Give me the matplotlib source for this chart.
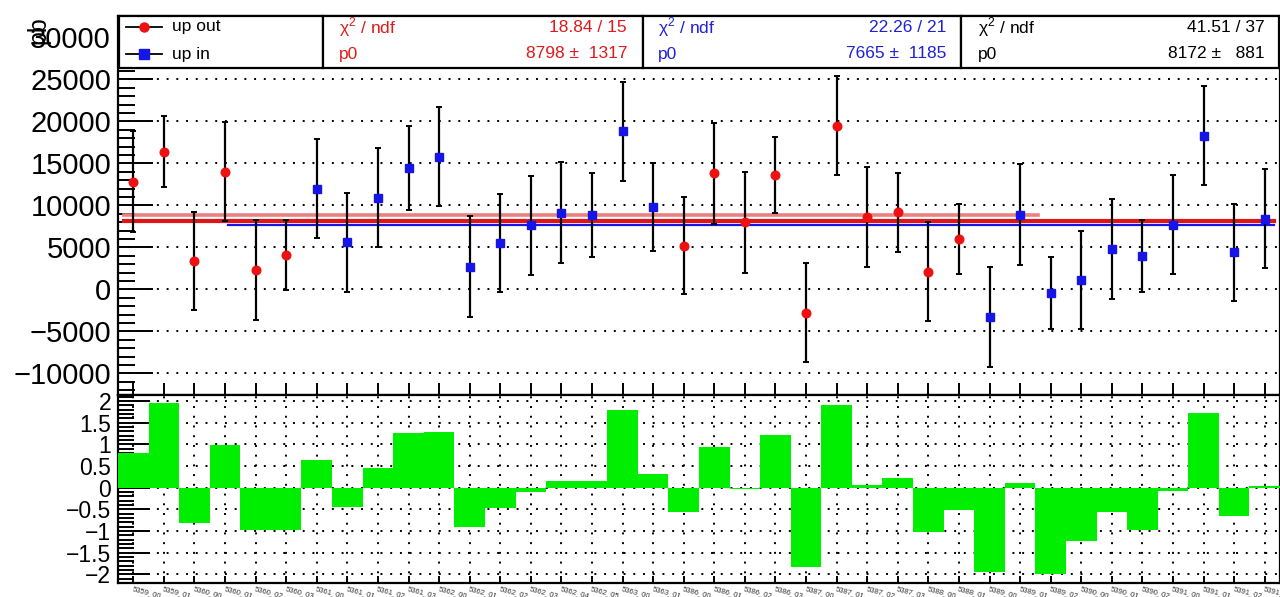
import numpy as np
import matplotlib.pyplot as plt
from matplotlib.patches import Rectangle
from matplotlib.lines import Line2D
from matplotlib.ticker import MultipleLocator

plt.rcParams['font.family'] = ['Liberation Sans', 'DejaVu Sans']
plt.rcParams['mathtext.fontset'] = 'custom'
plt.rcParams['mathtext.rm'] = 'Liberation Sans'

# run labels, one bin per run segment
runs = ["5359_00", "5359_01", "5360_00", "5360_01", "5360_02", "5360_03",
        "5361_00", "5361_01", "5361_02", "5361_03", "5362_00", "5362_01",
        "5362_02", "5362_03", "5362_04", "5362_05", "5363_00", "5363_01",
        "5386_00", "5386_01", "5386_02", "5386_03", "5387_00", "5387_01",
        "5387_02", "5387_03", "5388_00", "5388_01", "5389_00", "5389_01",
        "5389_02", "5390_00", "5390_01", "5390_02", "5391_00", "5391_01",
        "5391_02", "5391_03"]

# measured value per run [pb] and its error
xsec = [12800, 16400, 3400, 14000, 2300, 4100,
        12000, 5600, 10900, 14500, 15800, 2700, 5500, 7600, 9100, 8900, 18800, 9800,
        5200, 13800, 8000, 13600, -2800, 19500, 8600, 9200, 2100, 6000,
        -3300, 8900, -400, 1100, 4800, 4000, 7700, 18300, 4400, 8400]
xsec_err = [6000, 4200, 5850, 5900, 6000, 4200,
            5900, 5900, 5900, 5000, 5900, 6000, 5800, 5900, 6000, 5000, 5900, 5200,
            5800, 6000, 6000, 4500, 5900, 5900, 6000, 4700, 5900, 4200,
            5900, 6000, 4300, 5800, 6000, 4300, 5900, 5900, 5800, 5900]

# pull of each run w.r.t. the combined fit
pulls = [0.79, 1.95, -0.82, 0.99, -0.98, -0.97,
         0.65, -0.44, 0.46, 1.27, 1.29, -0.91, -0.46, -0.10, 0.15, 0.15, 1.80, 0.31,
         -0.55, 0.94, -0.03, 1.21, -1.83, 1.92, 0.07, 0.22, -1.03, -0.52,
         -1.94, 0.12, -1.99, -1.22, -0.56, -0.97, -0.08, 1.72, -0.65, 0.04]

# which runs belong to which configuration
idx_out = [0, 1, 2, 3, 4, 5, 18, 19, 20, 21, 22, 23, 24, 25, 26, 27]
idx_in = [6, 7, 8, 9, 10, 11, 12, 13, 14, 15, 16, 17,
          28, 29, 30, 31, 32, 33, 34, 35, 36, 37]

# constant fits: (chi2, ndf, p0, p0 error)
fit_out = (18.84, 15, 8798, 1317)
fit_in = (22.26, 21, 7665, 1185)
fit_all = (41.51, 37, 8172, 881)

W, H = 1280, 597
fig = plt.figure(figsize=(W / 100, H / 100), dpi=100)


def fx(px):
    return px / W


def fy(py):
    return 1 - py / H


RED = '#ee1111'
BLUE = '#1515e8'
GREEN = '#00ee00'
DOT = (0, (1, 4))

x = np.arange(len(runs))
xsec = np.array(xsec, float)
xsec_err = np.array(xsec_err, float)

# ---- upper pad: values + fits ----
ax = fig.add_axes([fx(118), fy(395), 1 - fx(118), fy(16) - fy(395)])
ax.set_xlim(-0.5, len(runs) - 0.5)
ax.set_ylim(-12580, 32540)

ax.plot([-0.3, 29.6], [fit_out[2]] * 2, color='#ea8080', lw=2.6, zorder=2)
ax.plot([-0.3, 37.3], [fit_all[2]] * 2, color='#e01515', lw=3.0, zorder=2)
ax.plot([3.1, 37.3], [fit_in[2]] * 2, color=BLUE, lw=1.6, zorder=2)

ax.errorbar(x[idx_out], xsec[idx_out], yerr=xsec_err[idx_out], fmt='o',
            color=RED, ms=6.2, mec=RED, ecolor='black', elinewidth=1.6,
            capsize=2.2, capthick=1.4, zorder=4)
ax.errorbar(x[idx_in], xsec[idx_in], yerr=xsec_err[idx_in], fmt='s',
            color=BLUE, ms=6.0, mec=BLUE, ecolor='black', elinewidth=1.6,
            capsize=2.2, capthick=1.4, zorder=4)

ax.yaxis.set_major_locator(MultipleLocator(5000))
ax.yaxis.set_minor_locator(MultipleLocator(1000))
ax.set_xticks(x)
ax.tick_params(axis='x', direction='in', length=8.5, width=1.4,
               labelbottom=False, top=False)
ax.tick_params(axis='y', which='major', direction='in', length=25, width=1.4,
               labelsize=21, pad=5, right=False)
ax.tick_params(axis='y', which='minor', direction='in', length=12, width=1.4,
               right=False)
ax.grid(True, axis='y', linestyle=DOT, color='black', lw=1.4, zorder=0)
ax.set_axisbelow(True)
for s in ax.spines.values():
    s.set_linewidth(1.6)

fig.text(fx(38), fy(16), 'pb', rotation=90, ha='center', va='top',
         fontsize=18)

# ---- lower pad: pulls ----
ax2 = fig.add_axes([fx(118), fy(583), 1 - fx(118), fy(395) - fy(583)])
ax2.set_xlim(-0.5, len(runs) - 0.5)
ax2.set_ylim(-2.2, 2.14)
ax2.bar(x, pulls, width=1.0, color=GREEN, lw=0, zorder=3)
ax2.yaxis.set_major_locator(MultipleLocator(0.5))
ax2.yaxis.set_minor_locator(MultipleLocator(0.1))
ax2.set_yticks([-2, -1.5, -1, -0.5, 0, 0.5, 1, 1.5, 2])
ax2.set_yticklabels(['\u22122', '\u22121.5', '\u22121', '\u22120.5', '0',
                     '0.5', '1', '1.5', '2'])
ax2.set_xticks(x)
ax2.set_xticklabels(runs, rotation=-15, ha='left', va='top',
                    rotation_mode='anchor', fontsize=5.5, color='#333333')
ax2.tick_params(axis='x', direction='in', length=5, width=1.4, pad=2,
                top=False)
ax2.tick_params(axis='y', which='major', direction='in', length=23, width=1.4,
                labelsize=16.5, pad=5, right=False)
ax2.tick_params(axis='y', which='minor', direction='in', length=11.5,
                width=1.4, right=False)
ax2.grid(True, linestyle=DOT, color='black', lw=1.4, zorder=0)
ax2.set_axisbelow(True)
for s in ax2.spines.values():
    s.set_linewidth(1.6)

# ---- legend and fit boxes along the top ----
box_top, box_bot = 16, 68
row1, row2 = 27, 54
boxes = [(119, 323), (323, 643), (643, 961), (961, 1279)]
for x0, x1 in boxes:
    fig.add_artist(Rectangle((fx(x0), fy(box_bot)), fx(x1) - fx(x0),
                             fy(box_top) - fy(box_bot), transform=fig.transFigure,
                             facecolor='white', edgecolor='black', lw=1.6,
                             zorder=10))

for row, col, mk, name in [(row1, RED, 'o', 'up out'), (row2, BLUE, 's', 'up in')]:
    fig.add_artist(Line2D([fx(126), fx(162)], [fy(row), fy(row)],
                          transform=fig.transFigure, color='black', lw=1.3,
                          zorder=11))
    fig.add_artist(Line2D([fx(144)], [fy(row)], transform=fig.transFigure,
                          marker=mk, ms=6.5, color=col, mec=col, lw=0, zorder=12))
    fig.text(fx(172), fy(row), name, ha='left', va='center', fontsize=12.5,
             zorder=12)

stats = [(fit_out, '#e01a1a', 339, 627), (fit_in, '#2020d8', 658, 946),
         (fit_all, 'black', 978, 1265)]
for (chi2, ndf, p0, p0err), col, xl, xr in stats:
    fig.text(fx(xl), fy(row1), '\u03c7$^{2}$ / ndf', ha='left', va='center',
             fontsize=12.5, color=col, zorder=12)
    fig.text(fx(xr), fy(row1), f'{chi2:.2f} / {ndf}', ha='right',
             va='center', fontsize=12.5, color=col, zorder=12)
    fig.text(fx(xl), fy(row2), 'p0', ha='left', va='center', fontsize=12.5,
             color=col, zorder=12)
    fig.text(fx(xr), fy(row2), f'{p0} \u00b1 {p0err:>5}', ha='right',
             va='center', fontsize=12.5, color=col, zorder=12)

fig.savefig('out.png', dpi=100)
